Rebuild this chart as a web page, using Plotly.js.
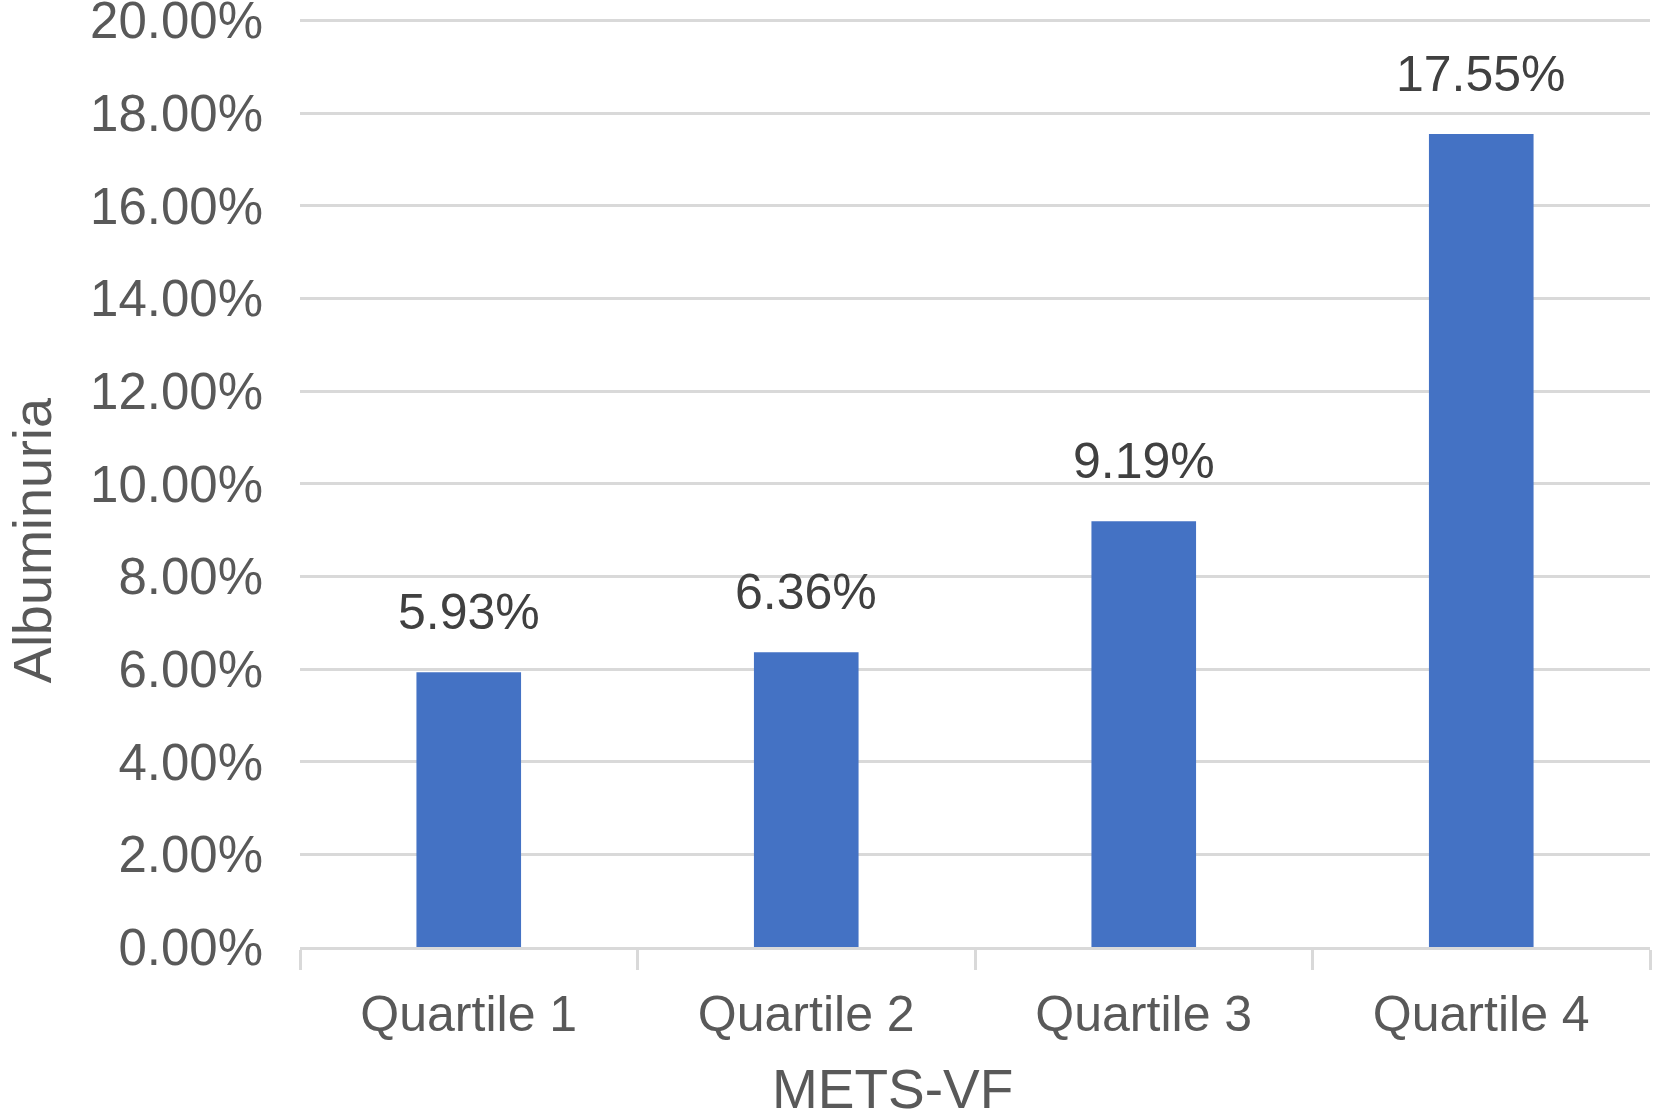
<!DOCTYPE html>
<html>
<head>
<meta charset="utf-8">
<script src="https://cdn.plot.ly/plotly-3.0.1.min.js"></script>
<style>html,body{margin:0;padding:0;background:#fff;}#chart{width:1654px;height:1119px;}</style>
</head>
<body>
<div id="chart"></div>
<script>
var categories = ["Quartile 1", "Quartile 2", "Quartile 3", "Quartile 4"];
var albuminuria = [0.0593, 0.0636, 0.0919, 0.1755];
var valueLabels = ["5.93%", "6.36%", "9.19%", "17.55%"];
var yTickVals = [0, 0.02, 0.04, 0.06, 0.08, 0.10, 0.12, 0.14, 0.16, 0.18, 0.20];
var yTickText = ["0.00%", "2.00%", "4.00%", "6.00%", "8.00%", "10.00%", "12.00%", "14.00%", "16.00%", "18.00%", "20.00%"];
var xTitle = "METS-VF";
var yTitle = "Albuminuria";

var FONT = "Liberation Sans, Arial, Helvetica, sans-serif";

var trace = {
  type: "bar",
  x: categories,
  y: albuminuria,
  marker: {color: "#4472C4"},
  hoverinfo: "none"
};

var annotations = categories.map(function (c, i) {
  return {
    x: c, y: albuminuria[i], xref: "x", yref: "y",
    text: valueLabels[i], showarrow: false,
    xanchor: "center", yanchor: "middle", yshift: 60,
    font: {family: FONT, size: 50, color: "#404040"}
  };
});
annotations.push({
  xref: "paper", yref: "paper", x: 0.439, y: -0.15,
  xanchor: "center", yanchor: "middle", showarrow: false,
  text: xTitle, font: {family: FONT, size: 55, color: "#595959"}
});
annotations.push({
  xref: "paper", yref: "paper", x: -0.199, y: 0.43,
  xanchor: "center", yanchor: "middle", showarrow: false, textangle: -90,
  text: yTitle, font: {family: FONT, size: 54, color: "#595959"}
});

var layout = {
  width: 1654, height: 1119,
  margin: {l: 300, r: 4, t: 0, b: 172},
  paper_bgcolor: "#ffffff", plot_bgcolor: "#ffffff",
  showlegend: false,
  bargap: 0.69,
  font: {family: FONT, color: "#595959"},
  xaxis: {
    type: "category",
    tickson: "boundaries",
    ticks: "outside", ticklen: 20, tickwidth: 3, tickcolor: "#d9d9d9",
    showline: true, linecolor: "#d9d9d9", linewidth: 3,
    showgrid: false,
    tickfont: {family: FONT, size: 50, color: "#595959"},
    ticklabelstandoff: 21
  },
  yaxis: {
    range: [0, 0.2044],
    tickmode: "array",
    tickvals: yTickVals,
    ticktext: yTickText,
    ticklabeloverflow: "allow",
    showgrid: true, gridcolor: "#d9d9d9", gridwidth: 3,
    zeroline: false, showline: false, ticks: "",
    tickfont: {family: FONT, size: 51, color: "#595959"},
    ticklabelstandoff: 36
  },
  annotations: annotations
};

Plotly.newPlot("chart", [trace], layout, {displayModeBar: false, staticPlot: true});
</script>
</body>
</html>
